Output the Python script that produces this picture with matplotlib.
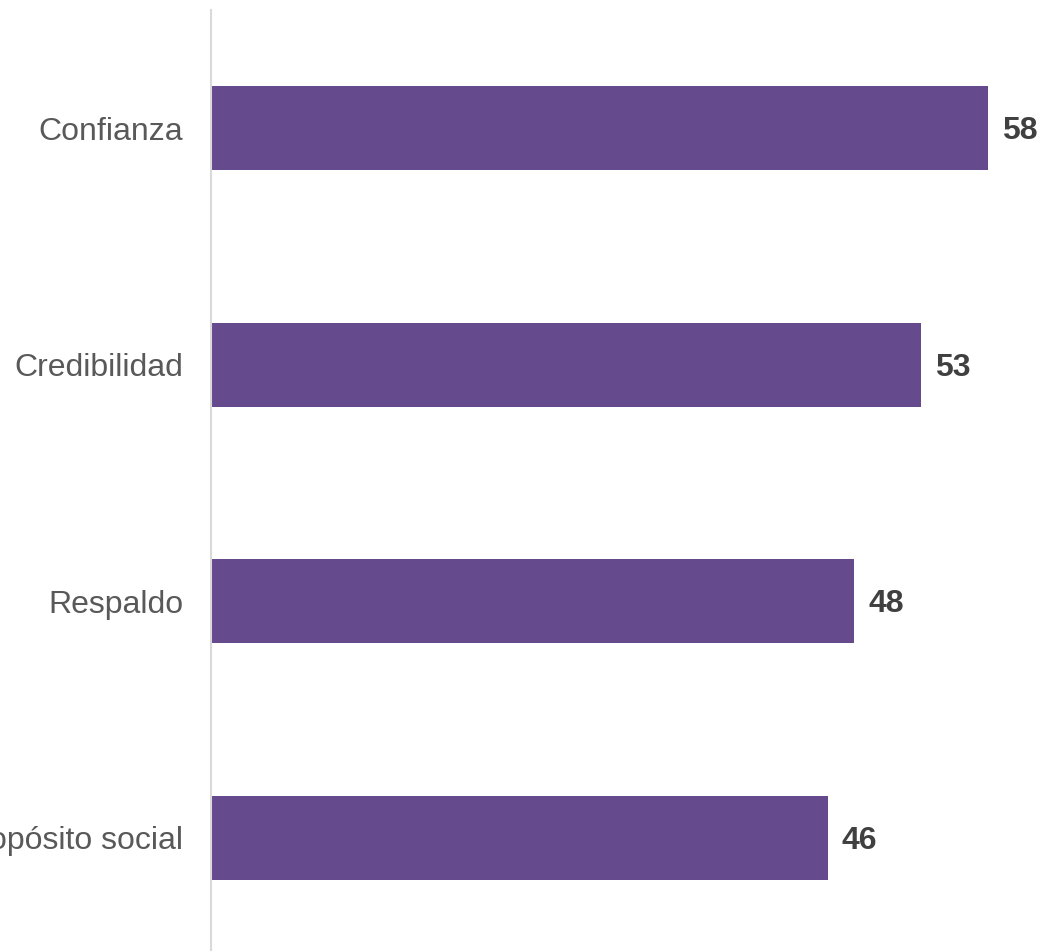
import matplotlib.pyplot as plt

categories = ['Confianza', 'Credibilidad', 'Respaldo', 'Propósito social']
values = [58, 53, 48, 46]

plt.rcParams['font.family'] = ['Liberation Sans', 'DejaVu Sans']

fig = plt.figure(figsize=(10.45, 9.51), dpi=100)
# axes placed so that the category axis sits at x=211 px and bars fill the height
ax = fig.add_axes([211 / 1045, -5 / 951, 831 / 1045, 946 / 951])

y = list(range(len(categories)))
ax.barh(y, values, height=0.355, color='#654A8E')
ax.set_ylim(len(categories) - 0.5, -0.5)
ax.set_xlim(0, 62)

for yi, v in zip(y, values):
    ax.annotate(str(v), xy=(v, yi), xytext=(10, -2), textcoords='offset points',
                va='center', ha='left', fontsize=23, fontweight='bold', color='#404040')

ax.set_yticks(y)
ax.set_yticklabels(categories, fontsize=23, color='#595959')
ax.tick_params(axis='y', length=0, pad=20)
ax.set_xticks([])

for side in ['top', 'right', 'bottom']:
    ax.spines[side].set_visible(False)
ax.spines['left'].set_color('#D9D9D9')
ax.spines['left'].set_linewidth(1.5)

plt.savefig('out.png', dpi=100)
plt.close()
